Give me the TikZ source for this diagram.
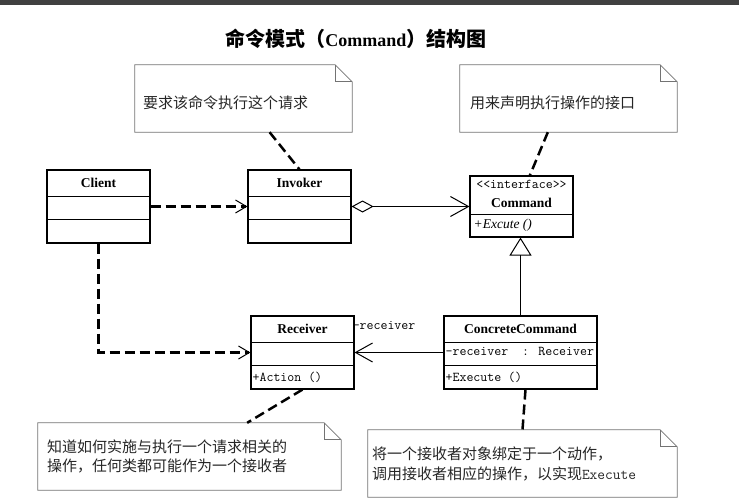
\documentclass[tikz,border=0pt]{standalone}
\usepackage{fontspec}
\setmainfont{Liberation Serif}
\newfontfamily\cjk{Noto Sans CJK SC}
\usetikzlibrary{arrows.meta,calc}

\tikzset{
  classbox/.style={draw, line width=1.1pt, minimum width=103pt, minimum height=73pt, inner sep=0pt},
  classname/.style={font=\fontsize{13.5}{15}\selectfont\bfseries, inner sep=0pt},
  member/.style={font=\ttfamily\fontsize{13.5}{15}\selectfont, anchor=west, inner sep=0pt},
  notebox/.style={minimum height=67pt, inner sep=0pt},
  noteline/.style={draw=black!55, line width=0.8pt},
  notetext/.style={font=\cjk\fontsize{15}{19}\selectfont, text=black!85, align=left, anchor=west, inner sep=0pt},
  depend/.style={line width=2.5pt, dash pattern=on 10pt off 5pt},
  dependarrow/.style={depend, -{Straight Barb[line width=1pt, length=11pt, width=13pt]}},
  assoc/.style={line width=1pt, -{Straight Barb[length=17pt, width=19pt]}},
}

\begin{document}
\begin{tikzpicture}[x=1pt, y=-1pt]
  \useasboundingbox (0,0) rectangle (739,500);
  \fill[black!75] (0,0) rectangle (739,5);

  \node[inner sep=0pt] (title) at (356,39)
    {\cjk\bfseries\fontsize{20}{23}\selectfont 命令模式（{\rmfamily\fontsize{18}{21}\selectfont Command}）结构图};

  % classes
  \node[classbox] (client) at (98.5,206.5) {};
  \node[classbox] (invoker) at (299.5,206.5) {};
  \node[classbox, minimum height=61pt] (command) at (521.5,206.5) {};
  \node[classbox] (receiver) at (302.5,352.5) {};
  \node[classbox, minimum width=153pt] (concrete) at (520.5,352.5) {};

  \foreach \c in {client,invoker,receiver,concrete}{
    \draw[line width=1.1pt] ([yshift=-27pt]\c.north west) -- ([yshift=-27pt]\c.north east);
    \draw[line width=1.1pt] ([yshift=-50pt]\c.north west) -- ([yshift=-50pt]\c.north east);
  }
  \draw[line width=1.1pt] ([yshift=-39pt]command.north west) -- ([yshift=-39pt]command.north east);

  \node[classname] (clientname) at ([yshift=-13.5pt]client.north) {Client};
  \node[classname] (invokername) at ([yshift=-13.5pt]invoker.north) {Invoker};
  \node[member, anchor=center] (stereo) at ([yshift=-9pt]command.north) {<{}<interface>{}>};
  \node[classname] (commandname) at ([yshift=-27pt]command.north) {Command};
  \node[anchor=west, inner sep=0pt, font=\itshape\fontsize{13.5}{15}\selectfont] (excute)
    at ([xshift=4pt,yshift=-50pt]command.north west) {+Excute ()};
  \node[classname] (receivername) at ([yshift=-13.5pt]receiver.north) {Receiver};
  \node[member] (action) at ([xshift=2pt,yshift=-62pt]receiver.north west) {+Action ()};
  \node[classname] (concretename) at ([yshift=-13.5pt]concrete.north) {ConcreteCommand};
  \node[member] (field) at ([xshift=2pt,yshift=-36pt]concrete.north west) {-receiver~~: Receiver};
  \node[member] (execute) at ([xshift=2pt,yshift=-62pt]concrete.north west) {+Execute ()};
  \node[member] (role) at ([xshift=-2pt,yshift=-10pt]receiver.north east) {-receiver};

  % relations
  \draw[dependarrow] (client.east) -- (invoker.west);
  \draw[line width=1pt, {Diamond[open, length=22pt, width=12pt]}-{Straight Barb[length=18pt, width=20pt]}]
    (invoker.east) -- (command.west);
  \draw[line width=1pt, -{Triangle[open, length=18pt, width=22pt]}]
    (concrete.north) -- (concrete.north |- command.south);
  \draw[assoc] (concrete.west) -- (receiver.east);
  \draw[dependarrow] (client.south) |- (receiver.west);

  % notes
  \node[notebox, minimum width=217pt] (note1) at (243.5,98.5) {};
  \node[notebox, minimum width=217pt] (note2) at (568.5,98.5) {};
  \node[notebox, minimum width=303pt] (note3) at (189.5,456.5) {};
  \node[notebox, minimum width=309pt] (note4) at (522.5,463.5) {};
  \foreach \n in {note1,note2,note3,note4}{
    \draw[noteline] (\n.south west) -- (\n.south east) -- ([yshift=-17pt]\n.north east)
      -- ([xshift=-17pt]\n.north east) -- (\n.north west) -- cycle;
    \draw[noteline] ([xshift=-17pt]\n.north east) -- ([xshift=-17pt,yshift=-17pt]\n.north east)
      -- ([yshift=-17pt]\n.north east);
  }

  \node[notetext] (text1) at ([xshift=8pt,yshift=-4.5pt]note1.west) {要求该命令执行这个请求};
  \node[notetext] (text2) at ([xshift=10pt,yshift=-4.5pt]note2.west) {用来声明执行操作的接口};
  \node[notetext] (text3) at ([xshift=9pt]note3.west)
    {知道如何实施与执行一个请求相关的\\操作，任何类都可能作为一个接收者};
  \node[notetext, font=\cjk\fontsize{15}{20}\selectfont] (text4) at ([xshift=4pt]note4.west)
    {将一个接收者对象绑定于一个动作，\\调用接收者相应的操作，以实现{\ttfamily Execute}};

  \draw[depend] ($(note1.south west)!0.62!(note1.south east)$) -- (invoker.north);
  \draw[depend] ($(note2.south west)!0.405!(note2.south east)$)
    -- ($(command.north west)!0.58!(command.north east)$);
  \draw[depend] (receiver.south) -- ($(note3.north west)!0.69!(note3.north east)$);
  \draw[depend] ([xshift=5pt]concrete.south) -- (note4.north);
\end{tikzpicture}
\end{document}
